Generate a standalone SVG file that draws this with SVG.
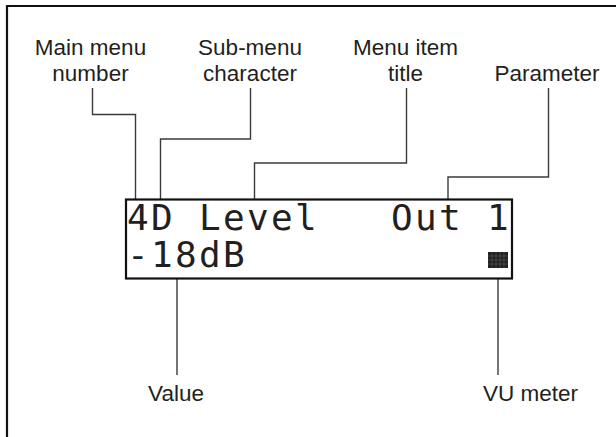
<svg xmlns="http://www.w3.org/2000/svg" width="616" height="437" viewBox="0 0 616 437">
  <style>
    .lbl { font-family: "Liberation Sans", Arial, Helvetica, sans-serif; font-size: 22.5px; fill: #231f20; }
    .mid { text-anchor: middle; }
    .lcd { font-family: "DejaVu Sans Mono", "Liberation Mono", monospace; font-size: 36px; fill: #231f20; }
    .lead { fill: none; stroke: #3a3a3a; stroke-width: 1.4; }
  </style>
  <rect x="0" y="0" width="616" height="437" fill="#ffffff"/>
  <path d="M7,437 V6 H616" fill="none" stroke="#111" stroke-width="2.2"/>

  <g id="connectors">
    <path class="lead" d="M92.5,88 V114.5 H135.5 V199"/>
    <path class="lead" d="M250.5,88 V139 H160.5 V199"/>
    <path class="lead" d="M406.5,88 V163 H254.5 V199"/>
    <path class="lead" d="M548.5,88 V177 H448 V199"/>
    <path class="lead" d="M177,279 V375"/>
    <path class="lead" d="M498,279 V375"/>
  </g>

  <g id="lcd-display">
    <rect x="126" y="199.5" width="386" height="79" fill="#ffffff" stroke="#111" stroke-width="2.2"/>
    <text class="lcd" x="127 151 175 199 223 247 271 295" y="230">4D Level</text>
    <text class="lcd" x="391 415 439 463 487" y="230">Out 1</text>
    <text class="lcd" x="127 151 175 199 223" y="267">-18dB</text>
  </g>

  <g id="vu-block">
    <rect x="488" y="252" width="20" height="16" fill="#222"/>
    <path d="M488,256 H508 M488,260 H508 M488,264 H508 M492,252 V268 M496,252 V268 M500,252 V268 M504,252 V268" stroke="#5a5a5a" stroke-width="0.6"/>
  </g>

  <g id="label-main-menu-number">
    <text class="lbl mid" x="90.5" y="55">Main menu</text>
    <text class="lbl mid" x="90.5" y="80.5">number</text>
  </g>
  <g id="label-sub-menu-character">
    <text class="lbl mid" x="250" y="55">Sub-menu</text>
    <text class="lbl mid" x="250" y="80.5">character</text>
  </g>
  <g id="label-menu-item-title">
    <text class="lbl mid" x="405.5" y="55">Menu item</text>
    <text class="lbl mid" x="405.5" y="80.5">title</text>
  </g>
  <g id="label-parameter">
    <text class="lbl mid" x="547" y="80.5">Parameter</text>
  </g>
  <g id="label-value">
    <text class="lbl mid" x="176" y="401">Value</text>
  </g>
  <g id="label-vu-meter">
    <text class="lbl" x="483" y="401">VU meter</text>
  </g>
</svg>
